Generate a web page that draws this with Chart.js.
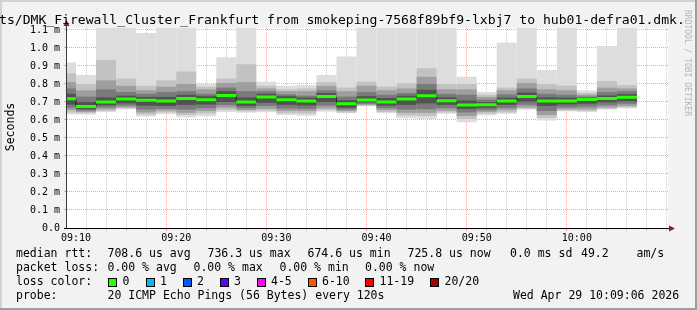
<!DOCTYPE html>
<html><head><meta charset="utf-8">
<script src="https://cdn.jsdelivr.net/npm/chart.js@4/dist/chart.umd.min.js"></script>
<style>
html,body{margin:0;padding:0;background:#f2f2f2;}
#wrap{position:relative;width:697px;height:310px;overflow:hidden;font-family:'DejaVu Sans Mono',monospace;color:#000;background:#f2f2f2;}
canvas{position:absolute;left:0;top:0;}
.t{position:absolute;white-space:pre;font-size:11.5px;line-height:14px;}
.box{position:absolute;width:7px;height:7px;border:1px solid #000;}
</style></head><body>
<div id="wrap">
<canvas id="c" width="697" height="310"></canvas>
</div>
<script>
// ---------------- data ----------------
const viewStart = '09:09:06';
const viewEnd = '10:09:06';
// end time of each 120 s sample
const sampleEnds = ['09:10','09:12','09:14','09:16','09:18','09:20','09:22','09:24','09:26','09:28',
  '09:30','09:32','09:34','09:36','09:38','09:40','09:42','09:44','09:46','09:48',
  '09:50','09:52','09:54','09:56','09:58','10:00','10:02','10:04','10:06'];
// median rtt (ms)
const medianMs = [0.718,0.675,0.700,0.717,0.710,0.706,0.719,0.713,0.736,0.700,
  0.728,0.713,0.706,0.730,0.690,0.711,0.700,0.717,0.735,0.707,
  0.683,0.685,0.706,0.730,0.706,0.706,0.714,0.720,0.726];
// smoke: outer envelope (min / max ping)
const smokeMin = [0.630,0.630,0.645,0.660,0.620,0.632,0.615,0.620,0.645,0.640,
  0.643,0.628,0.624,0.646,0.637,0.676,0.637,0.610,0.605,0.635,
  0.588,0.626,0.634,0.658,0.597,0.648,0.644,0.658,0.665];
const smokeMax = [0.920,0.850,1.200,1.200,1.083,1.200,1.200,0.800,0.948,1.200,
  0.813,0.790,0.794,0.850,0.952,1.200,1.200,1.200,1.200,1.200,
  0.840,0.755,1.031,1.200,0.878,1.200,0.764,1.011,1.200];
// smoke layer 2
const band2Lo = [0.642,0.638,0.650,0.664,0.630,0.642,0.628,0.636,0.656,0.648,
  0.652,0.638,0.636,0.655,0.642,0.679,0.645,0.625,0.622,0.642,
  0.605,0.635,0.642,0.662,0.612,0.652,0.650,0.662,0.670];
const band2Hi = [0.860,0.800,0.933,0.830,0.790,0.820,0.870,0.785,0.830,0.910,
  0.790,0.770,0.775,0.810,0.780,0.813,0.785,0.804,0.887,0.800,
  0.800,0.740,0.780,0.830,0.800,0.791,0.750,0.817,0.794];
// smoke layer 3
const band3Lo = [0.655,0.645,0.660,0.670,0.642,0.652,0.640,0.650,0.668,0.656,
  0.662,0.650,0.650,0.665,0.650,0.684,0.655,0.640,0.640,0.652,
  0.622,0.645,0.655,0.670,0.628,0.660,0.660,0.670,0.678];
const band3Hi = [0.810,0.765,0.820,0.790,0.765,0.785,0.800,0.770,0.805,0.810,
  0.775,0.760,0.760,0.790,0.760,0.790,0.765,0.775,0.840,0.770,
  0.770,0.728,0.765,0.805,0.770,0.765,0.740,0.780,0.775];
// smoke layer 4
const band4Lo = [0.668,0.652,0.670,0.680,0.658,0.662,0.658,0.665,0.682,0.665,
  0.678,0.663,0.662,0.680,0.658,0.690,0.666,0.658,0.660,0.666,
  0.642,0.655,0.667,0.684,0.650,0.670,0.674,0.682,0.690];
const band4Hi = [0.775,0.730,0.770,0.755,0.745,0.755,0.760,0.745,0.780,0.760,
  0.760,0.742,0.735,0.765,0.730,0.755,0.740,0.750,0.800,0.745,
  0.740,0.713,0.742,0.775,0.745,0.740,0.730,0.755,0.760];
// smoke core
const band5Lo = [0.685,0.660,0.682,0.692,0.680,0.678,0.684,0.686,0.700,0.678,
  0.695,0.684,0.680,0.700,0.668,0.698,0.680,0.684,0.692,0.684,
  0.662,0.668,0.684,0.702,0.678,0.686,0.690,0.698,0.704];
const band5Hi = [0.745,0.700,0.725,0.735,0.728,0.728,0.740,0.732,0.760,0.725,
  0.746,0.732,0.724,0.750,0.710,0.732,0.722,0.735,0.768,0.726,
  0.708,0.700,0.724,0.752,0.726,0.724,0.724,0.736,0.744];
// axis ticks
const yTickValues = [0,0.1,0.2,0.3,0.4,0.5,0.6,0.7,0.8,0.9,1.0,1.1];
const yTickLabels = ['0.0','0.1 m','0.2 m','0.3 m','0.4 m','0.5 m','0.6 m','0.7 m','0.8 m','0.9 m','1.0 m','1.1 m'];
const yTop = 1.111;
const xGridTimes = ['09:10','09:12','09:14','09:16','09:18','09:20','09:22','09:24','09:26','09:28',
  '09:30','09:32','09:34','09:36','09:38','09:40','09:42','09:44','09:46','09:48',
  '09:50','09:52','09:54','09:56','09:58','10:00','10:02','10:04','10:06','10:08'];
const xTickLabels = ['09:10','09:20','09:30','09:40','09:50','10:00'];
const stepMinutes = 2;

// ---------------- helpers ----------------
const toMin = s => { const p = s.split(':').map(Number); return (p[0]-9)*60 + p[1] + (p[2]||0)/60; };
const fmt = m => { const h = 9 + Math.floor(m/60), mm = Math.round(m%60); return String(h).padStart(2,'0')+':'+String(mm).padStart(2,'0'); };

const centers = sampleEnds.map(s => toMin(s) - stepMinutes/2);
const layer = (lo, hi) => centers.map((x,i) => ({x, y:[lo[i], hi[i]]}));

const barDs = (lo, hi, color, order) => ({
  type:'bar', data: layer(lo, hi), backgroundColor: color, borderWidth:0,
  barThickness:20, grouped:false, inflateAmount:0, order
});

const stepData = sampleEnds.map((s,i) => ({x: toMin(s) - stepMinutes, y: medianMs[i]}));
stepData.push({x: toMin(sampleEnds[sampleEnds.length-1]), y: medianMs[medianMs.length-1]});
const greenData = [];
sampleEnds.forEach((s,i) => {
  const e = toMin(s);
  greenData.push({x: e - stepMinutes, y: medianMs[i]}, {x: e, y: medianMs[i]}, {x: e, y: null});
});

const MGRID = 'rgba(205,70,70,0.45)';
const GRID = 'rgba(140,140,140,0.45)';

const framePlugin = {
  id:'frame',
  beforeDraw(chart){
    const {ctx, chartArea:a} = chart;
    ctx.save();
    ctx.fillStyle = '#f2f2f2'; ctx.fillRect(0,0,697,310);
    ctx.fillStyle = '#ffffff'; ctx.fillRect(a.left, a.top, a.right-a.left, a.bottom-a.top);
    ctx.restore();
  },
  afterDraw(chart){
    const {ctx, chartArea:a} = chart;
    ctx.save();
    ctx.fillStyle = '#3a3a3a'; ctx.fillRect(a.left-1, a.top-4, 1, a.bottom-a.top+5);
    ctx.fillStyle = '#000'; ctx.fillRect(a.left-3, a.bottom, a.right-a.left+5, 1);
    ctx.fillStyle = '#8e1c1c';
    ctx.beginPath(); ctx.moveTo(a.left-0.5, a.top-8); ctx.lineTo(a.left-3.5, a.top-2); ctx.lineTo(a.left+2.5, a.top-2); ctx.closePath(); ctx.fill();
    ctx.beginPath(); ctx.moveTo(a.right+7, a.bottom+0.5); ctx.lineTo(a.right+1, a.bottom-2.5); ctx.lineTo(a.right+1, a.bottom+3.5); ctx.closePath(); ctx.fill();
    ctx.fillStyle = '#d2d2d2'; ctx.fillRect(0,0,697,2); ctx.fillRect(0,0,2,310);
    ctx.fillStyle = '#9c9c9c'; ctx.fillRect(695,0,2,310); ctx.fillRect(0,308,697,2);
    ctx.restore();
  }
};

Chart.defaults.font.family = "'DejaVu Sans Mono', monospace";
Chart.defaults.color = '#000';

new Chart(document.getElementById('c'), {
  type:'bar',
  data:{ datasets:[
    barDs(smokeMin, smokeMax, '#dddddd', 10),
    barDs(band2Lo, band2Hi, '#c2c2c2', 9),
    barDs(band3Lo, band3Hi, '#9e9e9e', 8),
    barDs(band4Lo, band4Hi, '#7a7a7a', 7),
    barDs(band5Lo, band5Hi, '#525252', 6),
    {type:'line', data: stepData, stepped:true, borderColor:'#202020', borderWidth:1, pointRadius:0, fill:false, order:2},
    {type:'line', data: greenData, borderColor:'#26ff00', borderWidth:3, borderCapStyle:'butt', pointRadius:0, spanGaps:false, fill:false, order:1}
  ]},
  options:{
    responsive:false, animation:false, devicePixelRatio:1,
    layout:{padding:{top:28, right:29, left:0, bottom:0}},
    plugins:{legend:{display:false}, title:{display:false}, tooltip:{enabled:false}},
    scales:{
      x:{type:'linear', min: toMin(viewStart), max: toMin(viewEnd), offset:false, z:1,
        afterBuildTicks: ax => { ax.ticks = xGridTimes.map(t => ({value: toMin(t)})); },
        afterFit: s => { s.height = 82; },
        grid:{ color: c => (c.tick && xTickLabels.includes(fmt(c.tick.value))) ? MGRID : GRID, lineWidth:1, tickLength:3, drawTicks:true },
        border:{display:false, dash:[1,1]},
        ticks:{ autoSkip:false, maxRotation:0, padding:1, font:{size:10},
          callback: v => { const l = fmt(v); return xTickLabels.includes(l) ? l : ''; } }
      },
      y:{type:'linear', min:0, max:yTop, z:1,
        afterBuildTicks: ax => { ax.ticks = yTickValues.map(v => ({value:v})); },
        afterFit: s => { s.width = 67; },
        grid:{ color: MGRID, lineWidth:1, tickLength:3 },
        border:{display:false, dash:[1,1]},
        ticks:{ padding:4, font:{size:10}, callback: (v,i) => yTickLabels[i] }
      }
    }
  },
  plugins:[framePlugin]
});

// ---------------- text (title, labels, legend) ----------------
const wrap = document.getElementById('wrap');
function txt(s, left, top, extra){ const d = document.createElement('div'); d.className='t'; d.textContent = s; d.style.left = left+'px'; d.style.top = top+'px'; if(extra) Object.assign(d.style, extra); wrap.appendChild(d); return d; }
txt('ts/DMK_Firewall_Cluster_Frankfurt from smokeping-7568f89bf9-lxbj7 to hub01-defra01.dmk.', -1, 12, {fontSize:'13.1px', lineHeight:'16px'});
txt('Seconds', -20, 120, {width:'60px', textAlign:'center', transform:'rotate(-90deg)'});
txt('RRDTOOL / TOBI OETIKER', 637, 55, {width:'100px', textAlign:'center', fontSize:'8px', lineHeight:'10px', color:'#b4b4b4', transform:'rotate(90deg)'});

const rowTop = [246, 260, 274, 288];
const legendRows = [
  [['median rtt:',16],['708.6 us avg',107.5],['736.3 us max',207.5],['674.6 us min',307.5],['725.8 us now',407.5],['0.0 ms sd',510],['49.2',581],['am/s',636.5]],
  [['packet loss:',16],['0.00 % avg',107.5],['0.00 % max',193.5],['0.00 % min',279.5],['0.00 % now',365]],
  [['loss color:',16]],
  [['probe:',16],['20 ICMP Echo Pings (56 Bytes) every 120s',107.5]]
];
legendRows.forEach((row,r) => row.forEach(([s,x]) => txt(s, x, rowTop[r])));
txt('Wed Apr 29 10:09:06 2026', 513, rowTop[3]);

const lossLabels = ['0','1','2','3','4-5','6-10','11-19','20/20'];
const lossColors = ['#26ff00','#00b8ff','#0059ff','#5e00ff','#ff00ff','#ff5500','#ff0000','#a10000'];
const lossBoxX = [108,145.5,182.5,219.5,256.5,307.5,365,430];
lossLabels.forEach((l,i) => {
  const b = document.createElement('div'); b.className='box';
  b.style.left = lossBoxX[i]+'px'; b.style.top = '278px'; b.style.background = lossColors[i];
  wrap.appendChild(b);
  txt(l, lossBoxX[i]+14.5, rowTop[2]);
});
</script>
</body></html>
